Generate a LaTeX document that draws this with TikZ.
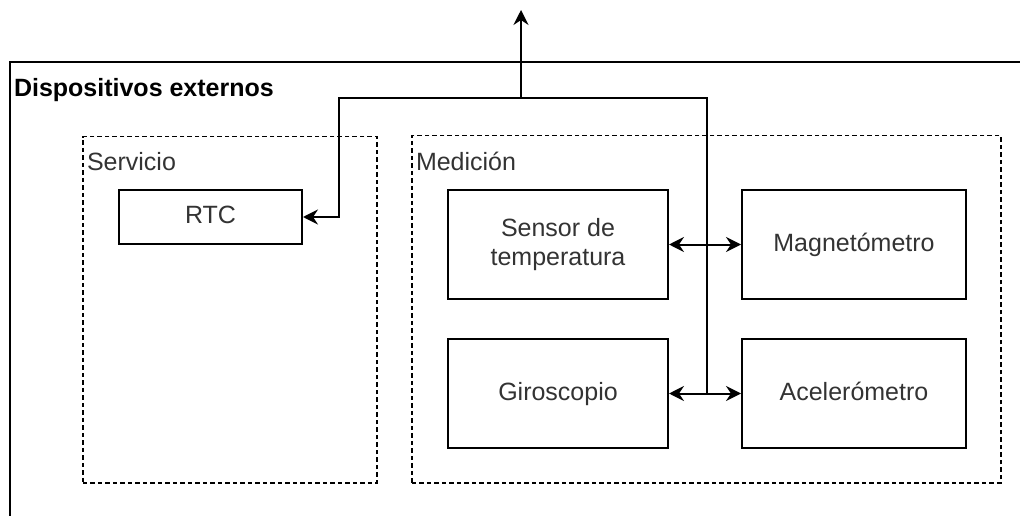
\documentclass[tikz,border=0pt]{standalone}
\usepackage{fontspec}
\setmainfont{Liberation Sans}
\usetikzlibrary{positioning,arrows.meta}
\definecolor{labelgray}{HTML}{333333}

\begin{document}
\begin{tikzpicture}[x=1pt, y=-1pt, line width=2pt, node distance=38pt and 72pt,
  every node/.style={font={\fontsize{25}{29}\selectfont}, inner sep=0pt},
  block/.style={draw=black, rectangle, minimum width=220pt, minimum height=109pt, align=center, text=labelgray},
  oneline/.style={text height=19pt, text depth=6pt},
  group/.style={draw=black, rectangle, dash pattern=on 4.5pt off 3pt, line width=1.5pt, anchor=north west},
  caption/.style={anchor=base west, text=labelgray},
  link/.style={-{Stealth[length=15pt, width=15pt, inset=5pt]}},
  duplex/.style={{Stealth[length=15pt, width=15pt, inset=5pt]}-{Stealth[length=15pt, width=15pt, inset=5pt]}}]
\useasboundingbox (0,0) rectangle (1020,516);
\draw[line width=2.8pt] (10,516) |- (1020,62);
\node[anchor=base west, font={\bfseries\fontsize{25}{29}\selectfont}] (title) at (13,97) {Dispositivos externos};
\node[group, minimum width=294pt, minimum height=346pt] (servicio) at (82,136) {};
\node[caption] (servlabel) at (86,171) {Servicio};
\node[group, minimum width=589pt, minimum height=347pt] (medicion) at (411,135) {};
\node[caption] (medlabel) at (415,171) {Medición};
\node[block, oneline, minimum width=183pt, minimum height=54pt] (rtc) at (210.5,217) {RTC};
\node[block] (sensor) at (558,244.5) {Sensor de\\temperatura};
\node[block, oneline, minimum width=224pt, right=of sensor] (magneto) {Magnetómetro};
\node[block, oneline, below=of sensor] (giro) {Giroscopio};
\node[block, oneline, minimum width=224pt, right=of giro] (accel) {Acelerómetro};
\coordinate (up) at (521,10);
\coordinate (hub) at (521,98);
\coordinate (tap) at ([xshift=38pt]giro.east);
\draw[link] (hub) -- (up);
\draw[link] (hub) -| ([xshift=36pt]rtc.east) -- (rtc.east);
\draw (hub) -| (tap);
\draw[link] (tap) -- (giro.east);
\draw[link] (tap) -- (accel.west);
\draw[duplex] (sensor) -- (magneto);
\end{tikzpicture}
\end{document}
